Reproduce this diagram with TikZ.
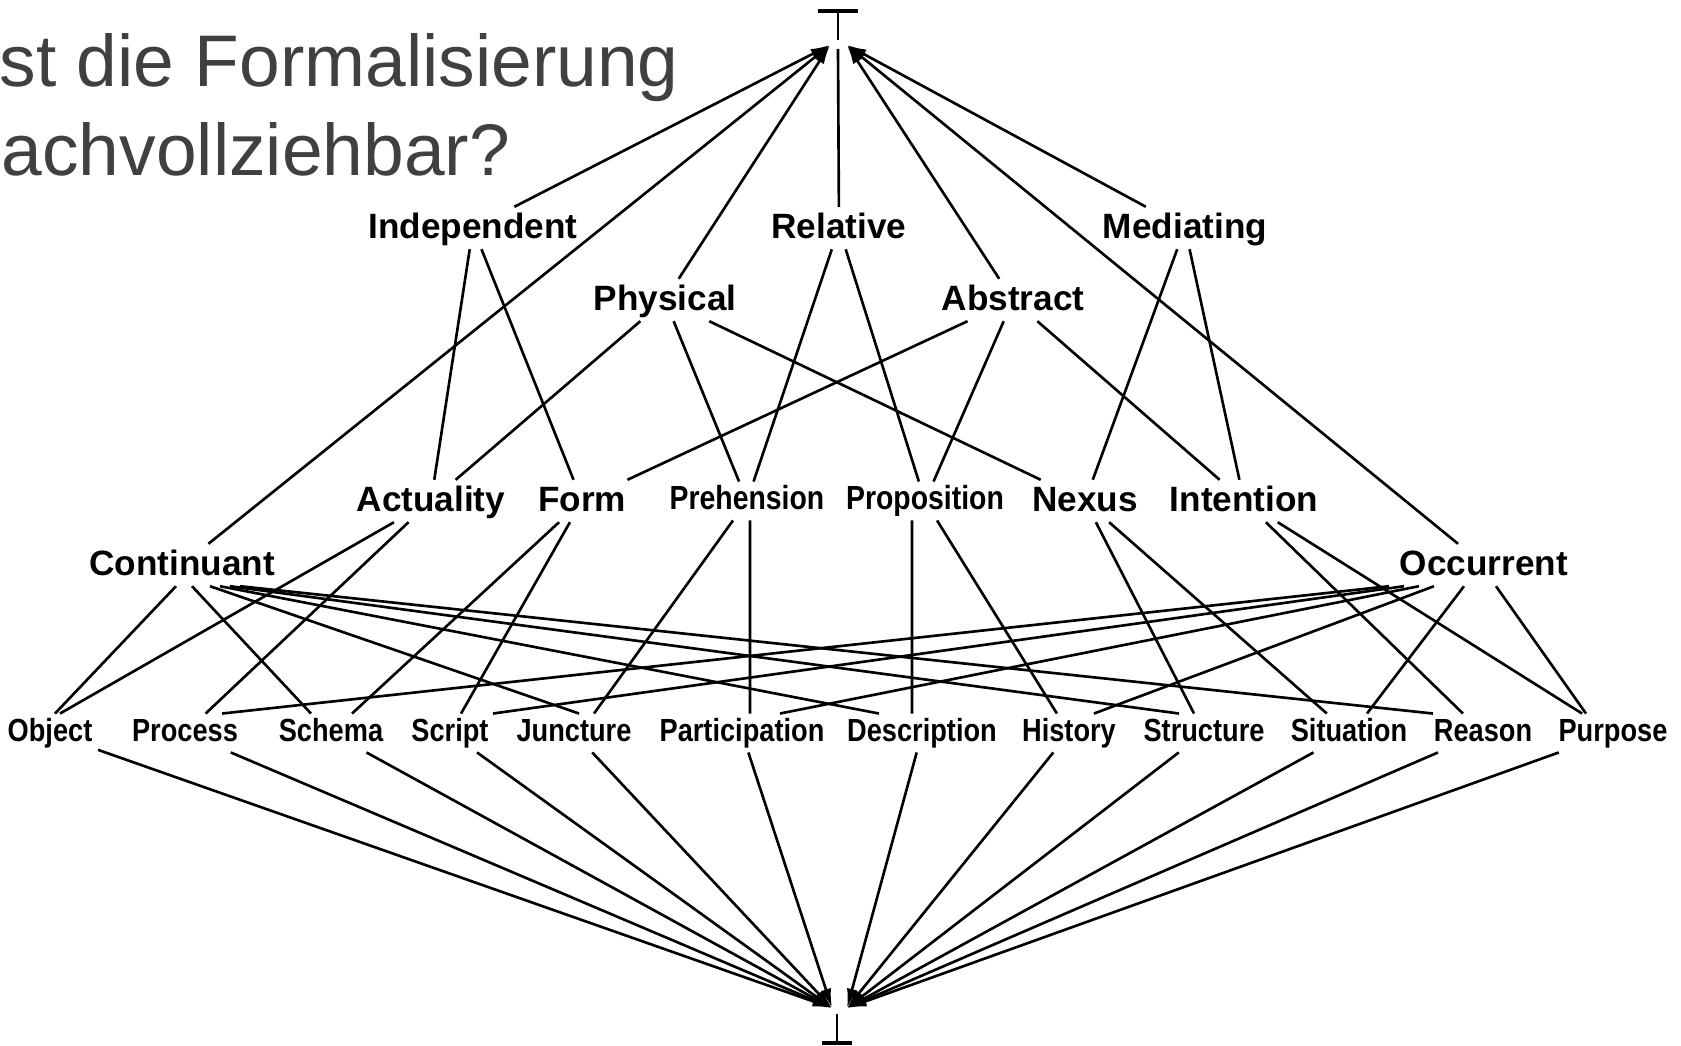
\documentclass[tikz,border=0pt]{standalone}
\usepackage{fontspec}
\setmainfont{Liberation Sans}
\newfontfamily\narrowfont[FakeStretch=0.85]{Liberation Sans}
\usetikzlibrary{arrows.meta}
\definecolor{titlegray}{RGB}{64,64,64}

\begin{document}
\begin{tikzpicture}[x=0.01cm,y=-0.01cm,
    link/.style={line width=0.75pt},
    uparrow/.style={link,-{Latex[length=5.5pt,width=3pt]}},
    upper/.style={font=\fontsize{10}{12}\selectfont\bfseries, inner sep=0.06cm, text height=0.25cm, text depth=0.04cm},
    lower/.style={font=\fontsize{9.1}{11}\selectfont\narrowfont\bfseries, inner sep=0.05cm, text height=0.225cm, text depth=0.05cm},
    midlow/.style={lower, font=\fontsize{9.5}{11}\selectfont\narrowfont\bfseries},
    title/.style={font=\fontsize{20.8}{25}\selectfont, text=titlegray, inner sep=0pt, anchor=base west}]
    \useasboundingbox (0,0) rectangle (1681,1046);

    % slide title, cut at the left
    \node[title] (line1) at (-1,87) {st die Formalisierung};
    \node[title] (line2) at (1,176) {achvollziehbar?};

    % top and bottom of the lattice
    \draw[line width=0.9pt] (818,11) -- (858,11);
    \draw[link] (838,11) -- (838,40);
    \coordinate (topL) at (830,45);
    \coordinate (topM) at (838,49);
    \coordinate (topR) at (847,45);

    \draw[link] (837,1014) -- (837,1043);
    \draw[line width=0.9pt] (822,1043) -- (852,1043);
    \coordinate (botL) at (832,1008);
    \coordinate (botR) at (847,1008);

    % categories
    \node[upper] (indep) at (473,228) {Independent};
    \node[upper] (relat) at (839,228) {Relative};
    \node[upper] (media) at (1185,228) {Mediating};
    \node[upper] (phys) at (665,300) {Physical};
    \node[upper] (abstr) at (1013,300) {Abstract};

    \node[upper] (actu) at (431,501) {Actuality};
    \node[upper] (form) at (582,501) {Form};
    \node[midlow] (preh) at (747,501) {Prehension};
    \node[midlow] (prop) at (925,501) {Proposition};
    \node[upper] (nexus) at (1085,501) {Nexus};
    \node[upper] (inten) at (1244,501) {Intention};
    \node[upper] (cont) at (182,565) {Continuant};
    \node[upper] (occ) at (1484,565) {Occurrent};

    \node[lower] (object) at (50,733) {Object};
    \node[lower] (process) at (185,733) {Process};
    \node[lower] (schema) at (331,733) {Schema};
    \node[lower] (script) at (450,733) {Script};
    \node[lower] (junct) at (574,733) {Juncture};
    \node[lower] (partic) at (742,733) {Participation};
    \node[lower] (descr) at (922,733) {Description};
    \node[lower] (hist) at (1069,733) {History};
    \node[lower] (struct) at (1204,733) {Structure};
    \node[lower] (situ) at (1349,733) {Situation};
    \node[lower] (reason) at (1483,733) {Reason};
    \node[lower] (purp) at (1613,733) {Purpose};

    % into the top
    \draw[uparrow] (cont) -- (topL);
    \draw[uparrow] (indep) -- (topL);
    \draw[uparrow] (phys) -- (topL);
    \draw[link] (relat) -- (topM);
    \draw[uparrow] (abstr) -- (topR);
    \draw[uparrow] (media) -- (topR);
    \draw[uparrow] (occ) -- (topR);

    % middle rows
    \draw[link] (indep) -- (actu);
    \draw[link] (indep) -- (form);
    \draw[link] (relat) -- (preh);
    \draw[link] (relat) -- (prop);
    \draw[link] (media) -- (nexus);
    \draw[link] (media) -- (inten);
    \draw[link] (phys) -- (actu);
    \draw[link] (phys) -- (preh);
    \draw[link] (phys) -- (nexus);
    \draw[link] (abstr) -- (form);
    \draw[link] (abstr) -- (prop);
    \draw[link] (abstr) -- (inten);

    % down to the twelve
    \draw[link] (actu) -- ([xshift=0.1cm]object.north);
    \draw[link] (actu) -- (process);
    \draw[link] (form) -- (schema);
    \draw[link] (form) -- (script);
    \draw[link] (preh) -- ([xshift=0.2cm]junct.north);
    \draw[link] ([xshift=0.03cm]preh.south) -- ([xshift=0.08cm]partic.north);
    \draw[link] ([xshift=-0.13cm]prop.south) -- ([xshift=-0.1cm]descr.north);
    \draw[link] (prop) -- (hist);
    \draw[link] (nexus) -- (struct);
    \draw[link] (nexus) -- (situ);
    \draw[link] (inten) -- (reason);
    \draw[link] (inten) -- (purp);

    \draw[link] ([xshift=-0.06cm]cont.south) -- ([xshift=0.05cm]object.north);
    \draw[link] ([xshift=0.1cm]cont.south) -- ([xshift=-0.2cm]schema.north);
    \draw[link] ([xshift=0.28cm]cont.south) -- ([xshift=0.05cm]junct.north);
    \draw[link] ([xshift=0.38cm]cont.south) -- ([xshift=-0.43cm]descr.north);
    \draw[link] ([xshift=0.48cm]cont.south) -- ([xshift=-0.25cm]struct.north);
    \draw[link] ([xshift=0.58cm]cont.south) -- ([xshift=-0.5cm]reason.north);
    \draw[link] ([xshift=-0.95cm]occ.south) -- ([xshift=0.37cm]process.north);
    \draw[link] ([xshift=-0.8cm]occ.south) -- ([xshift=0.43cm]script.north);
    \draw[link] ([xshift=-0.65cm]occ.south) -- ([xshift=0.38cm]partic.north);
    \draw[link] ([xshift=-0.5cm]occ.south) -- ([xshift=0.25cm]hist.north);
    \draw[link] ([xshift=-0.2cm]occ.south) -- ([xshift=0.18cm]situ.north);
    \draw[link] ([xshift=0.12cm]occ.south) -- ([xshift=-0.27cm]purp.north);

    % into the bottom
    \draw[uparrow] (object) -- (botL);
    \draw[uparrow] (process) -- (botL);
    \draw[uparrow] (schema) -- (botL);
    \draw[uparrow] (script) -- (botL);
    \draw[uparrow] (junct) -- (botL);
    \draw[uparrow] (partic) -- (botL);
    \draw[uparrow] (descr) -- (botR);
    \draw[uparrow] (hist) -- (botR);
    \draw[uparrow] (struct) -- (botR);
    \draw[uparrow] (situ) -- (botR);
    \draw[uparrow] (reason) -- (botR);
    \draw[uparrow] (purp) -- (botR);
\end{tikzpicture}
\end{document}
